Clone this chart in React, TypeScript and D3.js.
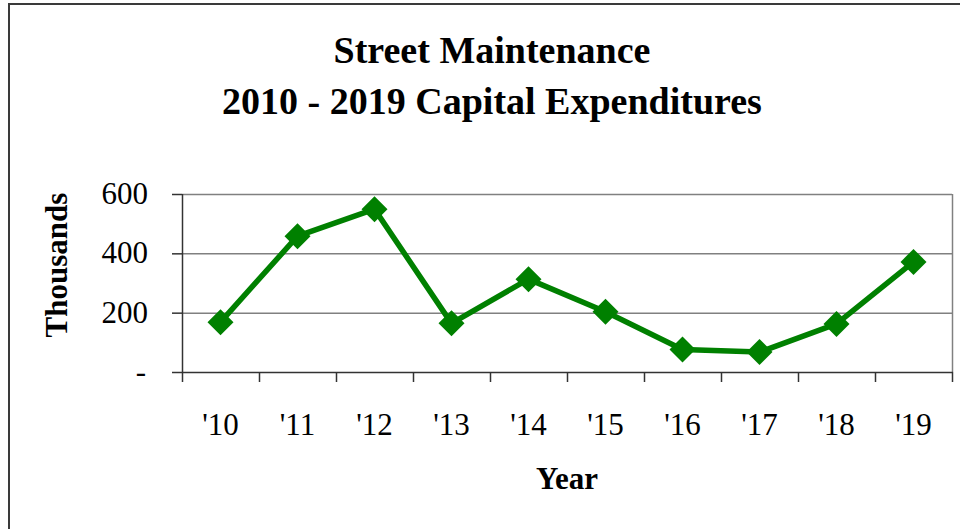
import React, { useRef, useEffect } from 'react';
import * as d3 from 'd3';

const years = ["'10", "'11", "'12", "'13", "'14", "'15", "'16", "'17", "'18", "'19"];
const expenditures = [168, 458, 549, 164, 313, 203, 76, 67, 162, 371];
const yTicks = [0, 200, 400, 600];
const yTickLabels = ['-', '200', '400', '600'];

const titleLines = ['Street Maintenance', '2010 - 2019 Capital Expenditures'];

function LineChart() {
  const svgRef = useRef<SVGSVGElement>(null);

  useEffect(() => {
    const width = 960;
    const height = 529;
    const plot = { left: 182, right: 952, top: 194, bottom: 372 };
    const font = '"Liberation Serif", "Times New Roman", serif';
    const green = '#008000';

    const svg = d3.select(svgRef.current);
    svg.selectAll('*').remove();
    svg.attr('width', width).attr('height', height);

    svg.append('rect').attr('width', width).attr('height', height).attr('fill', '#fff');

    // outer frame (right and bottom fall outside the picture)
    svg.append('path')
      .attr('d', `M9,${height + 5} L9,4 L${width + 5},4`)
      .attr('fill', 'none')
      .attr('stroke', '#3a3a3a')
      .attr('stroke-width', 2);

    const x = d3.scaleBand().domain(years).range([plot.left, plot.right]);
    const y = d3.scaleLinear().domain([0, 600]).range([plot.bottom, plot.top]);

    // gridlines
    svg.append('g')
      .selectAll('line')
      .data(yTicks.filter((d) => d > 0))
      .enter()
      .append('line')
      .attr('x1', plot.left)
      .attr('x2', plot.right)
      .attr('y1', (d) => y(d) + 0.5)
      .attr('y2', (d) => y(d) + 0.5)
      .attr('stroke', '#808080')
      .attr('stroke-width', 1.5);

    // right border of plot area
    svg.append('line')
      .attr('x1', plot.right + 0.5).attr('x2', plot.right + 0.5)
      .attr('y1', plot.top).attr('y2', plot.bottom)
      .attr('stroke', '#808080').attr('stroke-width', 1.5);

    // y axis
    const yAxis = svg.append('g');
    yAxis.append('line')
      .attr('x1', plot.left + 0.5).attr('x2', plot.left + 0.5)
      .attr('y1', plot.top).attr('y2', plot.bottom)
      .attr('stroke', '#333').attr('stroke-width', 1.5);
    yAxis.selectAll('line.tick')
      .data(yTicks)
      .enter()
      .append('line')
      .attr('class', 'tick')
      .attr('x1', plot.left - 10).attr('x2', plot.left)
      .attr('y1', (d) => y(d) + 0.5).attr('y2', (d) => y(d) + 0.5)
      .attr('stroke', '#333').attr('stroke-width', 1.5);
    yAxis.selectAll('text')
      .data(yTicks)
      .enter()
      .append('text')
      .attr('x', (d) => (d === 0 ? 146 : 148))
      .attr('y', (d) => y(d) + 10)
      .attr('text-anchor', 'end')
      .style('font-family', font)
      .style('font-size', '31px')
      .text((d, i) => yTickLabels[i]);

    // x axis
    const xAxis = svg.append('g');
    xAxis.append('line')
      .attr('x1', plot.left).attr('x2', plot.right + 1)
      .attr('y1', plot.bottom + 0.5).attr('y2', plot.bottom + 0.5)
      .attr('stroke', '#333').attr('stroke-width', 1.5);
    const bounds = years.map((d) => x(d) as number).concat([plot.right]);
    xAxis.selectAll('line.tick')
      .data(bounds)
      .enter()
      .append('line')
      .attr('class', 'tick')
      .attr('x1', (d) => d + 0.5).attr('x2', (d) => d + 0.5)
      .attr('y1', plot.bottom).attr('y2', plot.bottom + 10)
      .attr('stroke', '#333').attr('stroke-width', 1.5);
    xAxis.selectAll('text')
      .data(years)
      .enter()
      .append('text')
      .attr('x', (d) => (x(d) as number) + x.bandwidth() / 2)
      .attr('y', 435)
      .attr('text-anchor', 'middle')
      .style('font-family', font)
      .style('font-size', '31px')
      .text((d) => d);

    // series
    const pts = years.map((d, i) => [(x(d) as number) + x.bandwidth() / 2, y(expenditures[i])] as [number, number]);
    const line = d3.line();
    svg.append('path')
      .attr('d', line(pts))
      .attr('fill', 'none')
      .attr('stroke', green)
      .attr('stroke-width', 5.5)
      .attr('stroke-linejoin', 'round');

    const r = 13;
    svg.append('g')
      .selectAll('path')
      .data(pts)
      .enter()
      .append('path')
      .attr('d', (p) => `M${p[0]},${p[1] - r} L${p[0] + r},${p[1]} L${p[0]},${p[1] + r} L${p[0] - r},${p[1]} Z`)
      .attr('fill', green);

    // titles
    svg.append('g')
      .selectAll('text')
      .data(titleLines)
      .enter()
      .append('text')
      .attr('x', 492)
      .attr('y', (d, i) => 63 + i * 51)
      .attr('text-anchor', 'middle')
      .style('font-family', font)
      .style('font-size', '38px')
      .style('font-weight', 'bold')
      .text((d) => d);

    svg.append('text')
      .attr('transform', 'translate(67,265) rotate(-90)')
      .attr('text-anchor', 'middle')
      .style('font-family', font)
      .style('font-size', '31px')
      .style('font-weight', 'bold')
      .text('Thousands');

    svg.append('text')
      .attr('x', 567)
      .attr('y', 489)
      .attr('text-anchor', 'middle')
      .style('font-family', font)
      .style('font-size', '31px')
      .style('font-weight', 'bold')
      .text('Year');
  }, []);

  return <svg ref={svgRef} style={{ position: 'absolute', left: 0, top: 0, display: 'block' }}></svg>;
}

export default function App() {
  return <LineChart />;
}
